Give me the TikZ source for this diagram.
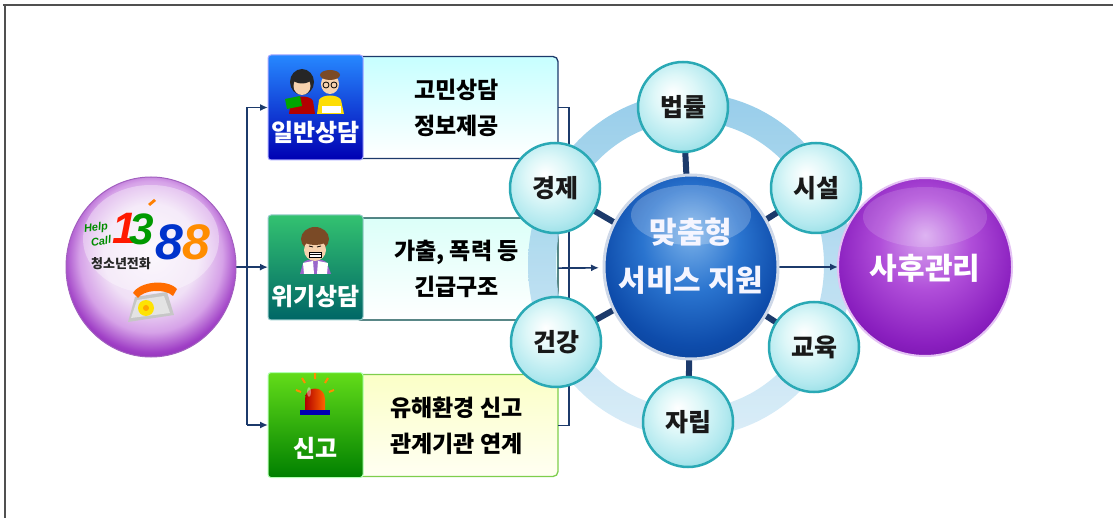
\documentclass[tikz,border=0pt]{standalone}
\usepackage{fontspec}
\usetikzlibrary{arrows.meta,shapes.geometric,calc}
\newfontfamily\kr{Noto Sans CJK KR}
\newfontfamily\lat{Liberation Sans}

% palette
\definecolor{framegray}{HTML}{505050}
\definecolor{navy}{HTML}{1C3A6B}
\definecolor{ringtop}{HTML}{86C5E6}
\definecolor{ringbot}{HTML}{D4EAF7}
\definecolor{satedge}{HTML}{2AA9B5}
\definecolor{satB}{HTML}{DDF7F8}
\definecolor{satC}{HTML}{B3E9EF}
\definecolor{satD}{HTML}{86D8E0}
\definecolor{coreA}{HTML}{7DB3EA}
\definecolor{coreB}{HTML}{2A74CF}
\definecolor{coreC}{HTML}{0E4CAB}
\definecolor{coreD}{HTML}{083B8E}
\definecolor{aftA}{HTML}{D9A8F0}
\definecolor{aftB}{HTML}{B04ED9}
\definecolor{aftC}{HTML}{8A1FBF}
\definecolor{aftD}{HTML}{6E0FA3}
\definecolor{helpA}{HTML}{FAF5FC}
\definecolor{helpB}{HTML}{F0E0F6}
\definecolor{helpC}{HTML}{D6A2E8}
\definecolor{helpD}{HTML}{A040C6}
\definecolor{helpE}{HTML}{7A1CA3}
\definecolor{skin}{HTML}{F6D2AE}
\definecolor{hairbrown}{HTML}{7A4A26}

\pgfdeclareradialshading{satball}{\pgfpoint{-6bp}{8bp}}{color(0bp)=(white); color(12bp)=(satB); color(24bp)=(satC); color(34bp)=(satD); color(50bp)=(satD)}
\pgfdeclareradialshading{coreball}{\pgfpoint{0bp}{10bp}}{color(0bp)=(coreA); color(14bp)=(coreB); color(26bp)=(coreC); color(35bp)=(coreD); color(50bp)=(coreD)}
\pgfdeclareradialshading{aftball}{\pgfpoint{0bp}{9bp}}{color(0bp)=(aftA); color(13bp)=(aftB); color(26bp)=(aftC); color(34bp)=(aftD); color(50bp)=(aftD)}
\pgfdeclareradialshading{helpball}{\pgfpoint{0bp}{5bp}}{color(0bp)=(helpA); color(14bp)=(helpB); color(21bp)=(helpC); color(26bp)=(helpD); color(31bp)=(helpE); color(50bp)=(helpE)}

\pgfdeclarelayer{base}
\pgfdeclarelayer{ringl}
\pgfdeclarelayer{linkl}
\pgfsetlayers{base,ringl,linkl,main}

\begin{document}
\begin{tikzpicture}[x=1pt,y=-1pt,
  every node/.style={inner sep=0pt, outer sep=0pt},
  frameline/.style={draw=framegray, line width=2.2pt},
  link/.style={draw=navy, line width=1.7pt},
  linkarrow/.style={link, -{Latex[length=8pt,width=7pt]}},
  spoke/.style={draw=navy, line width=6pt},
  iconbox/.style={rectangle, rounded corners=3pt, minimum width=95pt, minimum height=105pt, line width=1pt},
  textbox/.style={rectangle, rounded corners=5pt, minimum width=203pt, minimum height=102pt, line width=1.3pt,
    align=center, font=\kr\bfseries\fontsize{23}{36}\selectfont},
  iconlabel/.style={font=\kr\bfseries\fontsize{24}{26}\selectfont, text=white},
  sat/.style={circle, minimum size=90pt, draw=satedge, line width=2.5pt, shading=satball,
    font=\kr\bfseries\fontsize{25}{27}\selectfont, text=black!90},
]
\useasboundingbox (0,0) rectangle (1113,518);

% frame edges
\draw[frameline] (3,5) -- (1113,5);
\draw[frameline] (5,5) -- (5,518);

% ---------- spheres and satellites ----------
\node[ellipse, minimum width=170pt, minimum height=180pt, shading=helpball, draw=helpE!70, line width=1pt] (help) at (151,267) {};
\node[sat] (law)   at (683,107) {법률};
\node[sat] (fac)   at (816,188) {시설};
\node[sat] (edu)   at (814,347) {교육};
\node[sat] (indep) at (688,422) {자립};
\node[sat] (health) at (556,342) {건강};
\node[sat] (econ)  at (555,188) {경제};
\node[ellipse, minimum width=174pt, minimum height=184pt, shading=coreball, draw=coreD!20!white, line width=3pt] (core) at (691,267) {};
\node[ellipse, minimum width=174pt, minimum height=178pt, shading=aftball, draw=aftA!70!white, line width=2pt] (after) at (925,267) {};

% glossy highlights
\fill[white, opacity=0.22] ($(core.center)+(0,-52)$) ellipse [x radius=60pt, y radius=30pt];
\fill[white, opacity=0.14] ($(after.center)+(0,-50)$) ellipse [x radius=62pt, y radius=30pt];
\fill[white, opacity=0.35] ($(help.center)+(0,-28)$) ellipse [x radius=68pt, y radius=54pt];

% sphere captions
\node[font=\kr\bfseries\fontsize{30}{48}\selectfont, align=center, text=blue!4!white] (coretxt) at (691,256)
  {맞춤형\\서비스 지원};
\node[font=\kr\bfseries\fontsize{30}{32}\selectfont, text=white] (afttxt) at (925,268) {사후관리};

% help-line logo
\node[font=\lat\bfseries\itshape\fontsize{11}{12}\selectfont, text=green!55!black, rotate=8] (lhelp) at (96,228) {Help};
\node[font=\lat\bfseries\itshape\fontsize{11}{12}\selectfont, text=green!55!black, rotate=8] (lcall) at (101,241) {Call};
\node[font=\lat\bfseries\itshape\fontsize{44}{46}\selectfont, text=red!80!orange] (lone) at (125,228) {1};
\node[font=\lat\bfseries\itshape\fontsize{44}{46}\selectfont, text=green!60!black] (lthree) at (142,229) {3};
\node[font=\lat\bfseries\itshape\fontsize{50}{52}\selectfont, text=blue!75!cyan!80!black] (leight) at (169,242) {8};
\node[font=\lat\bfseries\itshape\fontsize{50}{52}\selectfont, text=orange!90!yellow] (leight2) at (196,242) {8};
\fill[orange] (148,204) -- (154,199) -- (156,201) -- (150,206) -- cycle;
\node[font=\kr\bfseries\fontsize{13}{14}\selectfont, text=black!85] (lname) at (121,264) {청소년전화};
% telephone
\fill[gray!45] (128,322) -- (135,297) -- (167,292) -- (174,315) -- cycle;
\fill[gray!22] (131,318) -- (137,300) -- (164,296) -- (170,313) -- cycle;
\fill[orange!85!red] (133,293) .. controls (140,281) and (168,279) .. (177,289) -- (173,296) .. controls (165,288) and (143,290) .. (138,298) -- cycle;
\fill[yellow!85!orange] (146,308) circle [radius=8pt];
\fill[orange!70!yellow] (146,308) circle [radius=3pt];

% ---------- counselling boxes ----------
\begin{pgfonlayer}{base}
\node[textbox, draw=navy, top color=cyan!22!white, bottom color=white] (txt1) at (456.5,107.5) {고민상담\\정보제공};
\node[textbox, draw=teal!55!black, top color=green!18!cyan!14!white, bottom color=white] (txt2) at (456.5,269) {가출, 폭력 등\\긴급구조};
\node[textbox, draw=green!45!olive!70, top color=lime!30!yellow!22!white, bottom color=yellow!5!white] (txt3) at (456.5,425.5) {유해환경 신고\\관계기관 연계};

\node[iconbox, draw=blue!35!white, top color=blue!55!cyan!85!white, bottom color=blue!70!black] (ico1) at (315.5,107.5) {};
\node[iconbox, draw=teal!40!white, top color=teal!60!green!80!white, bottom color=teal!80!black] (ico2) at (315.5,267.5) {};
\node[iconbox, draw=green!30!white, top color=green!50!lime!85!black!90, bottom color=green!50!black] (ico3) at (315.5,425) {};

\node[iconlabel] (lab1) at (315.5,133) {일반상담};
\node[iconlabel] (lab2) at (315.5,297) {위기상담};
\node[iconlabel] (lab3) at (315.5,448) {신고};

% counsellor pair
\fill[black!85] (302,82) ellipse [x radius=12pt, y radius=13pt];
\fill[red!70!black] (289,114) -- (291,101) .. controls (293,95) and (311,95) .. (313,101) -- (315,114) -- cycle;
\fill[skin] (302,86) ellipse [x radius=8.5pt, y radius=9pt];
\fill[black!85] (302,79) ellipse [x radius=9pt, y radius=4.5pt];
\fill[green!65!black] (285,99) -- (300,96) -- (302,106) -- (287,109) -- cycle;
\fill[yellow!80!orange] (317,114) -- (319,100) .. controls (322,94) and (338,94) .. (341,100) -- (344,114) -- cycle;
\fill[skin] (330,84) ellipse [x radius=9pt, y radius=10pt];
\fill[hairbrown] (330,75) ellipse [x radius=10pt, y radius=5pt];
\draw[black, line width=0.8pt] (326,85) circle [radius=3pt] (334,85) circle [radius=3pt];
\fill[white] (322,106) rectangle (341,113);
% distressed youth
\fill[hairbrown] (315,239) ellipse [x radius=14pt, y radius=12pt];
\fill[purple!45!blue!60!white] (300,274) -- (303,263) .. controls (306,258) and (324,258) .. (327,263) -- (331,274) -- cycle;
\fill[skin] (315,250) ellipse [x radius=11pt, y radius=11pt];
\fill[hairbrown] (315,240) ellipse [x radius=12pt, y radius=5pt];
\fill[white] (309,252) rectangle (321,257);
\draw[black, line width=0.5pt] (309,252) rectangle (321,257) (309,254.5) -- (321,254.5);
\draw[black, line width=0.8pt] (309,246) -- (313,247) (317,247) -- (321,246);
\fill[white] (303,263) -- (313,261) -- (314,274) -- (304,274) -- cycle;
\fill[white] (318,261) -- (328,263) -- (327,274) -- (317,274) -- cycle;
% siren
\draw[orange!90!yellow, line width=2pt] (315,373) -- (315,379) (302,378) -- (305,383) (328,378) -- (325,383) (296,390) -- (301,392) (334,390) -- (329,392);
\shade[left color=red!70!black, right color=orange!80!red] (305,411) -- (305,399) .. controls (305,385) and (325,385) .. (325,399) -- (325,411) -- cycle;
\fill[white, opacity=0.4] (309,392) ellipse [x radius=2pt, y radius=5pt];
\fill[blue!70!black] (300,410) rectangle (330,415);
\end{pgfonlayer}

% ---------- service ring ----------
\begin{pgfonlayer}{ringl}
\shade[top color=ringtop, bottom color=ringbot, even odd rule, opacity=0.85]
  (690,265) ellipse [x radius=162pt, y radius=172pt]
  (690,265) ellipse [x radius=134pt, y radius=144pt];
\end{pgfonlayer}

% ---------- connectors ----------
\begin{pgfonlayer}{linkl}
\coordinate (jtop) at (247,107.5);
\coordinate (jmid) at (247,267);
\coordinate (jbot) at (247,425);
\coordinate (btop) at (569,107.5);
\coordinate (bbot) at (569,425.5);
\draw[link] (help) -- (jmid);
\draw[link] (jtop) -- (jbot);
\draw[linkarrow] (jtop) -- (ico1);
\draw[linkarrow] (jmid) -- (ico2);
\draw[linkarrow] (jbot) -- (ico3);
\draw[link] (txt1) -- (btop) -- (bbot) -- (txt3);
\draw[linkarrow, shorten >=5pt] (txt2) -- (core);
\draw[linkarrow] (core) -- (after);
\foreach \s in {law,fac,edu,indep,health,econ} \draw[spoke] (core) -- (\s);
\end{pgfonlayer}
\end{tikzpicture}
\end{document}
